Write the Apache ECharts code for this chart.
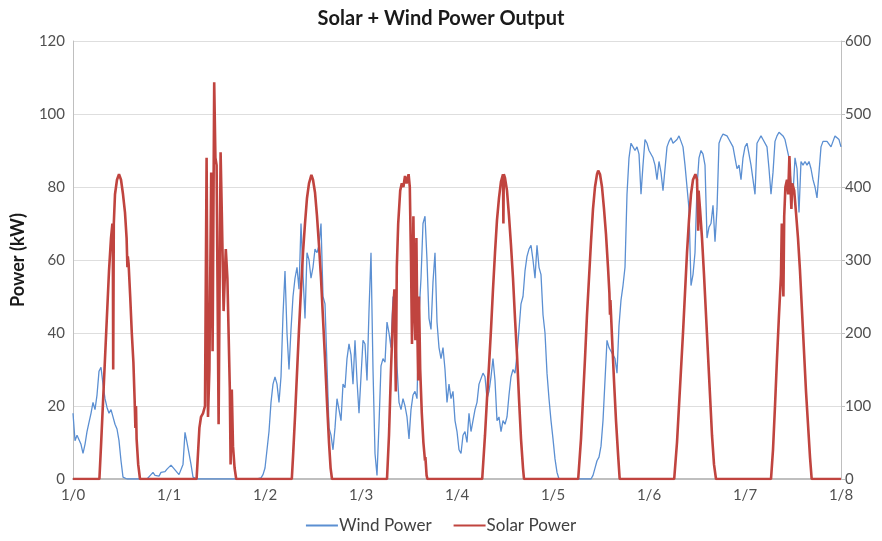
<!DOCTYPE html>
<html>
<head>
<meta charset="utf-8">
<script src="https://cdn.jsdelivr.net/npm/echarts@6/dist/echarts.min.js"></script>
<style>
  html, body { margin: 0; padding: 0; background: #ffffff; }
  #chart { width: 882px; height: 541px; }
</style>
</head>
<body>
<div id="chart"></div>
<script>
// Half-hourly wind output (kW), one array per day, starting at 00:00
const windDay0 = [18, 10.5, 12, 12, 9.5, 7, 9.5, 13, 15.5, 18, 21, 19, 23, 29.5, 30.6, 26, 22, 19.6, 18, 19, 17, 15, 13.7, 10.5, 5, 0.5, 0, 0, 0, 0, 0, 0, 0, 0, 0, 0, 0, 0, 0.5, 1.2, 1.8, 1, 1.4, 0.8, 1.8, 1.5, 2, 2.7];
const windDay1 = [2.5, 3.8, 3.5, 2.5, 2, 1.2, 1, 4, 12.8, 10, 7, 4, 0.5, 0, 0, 0, 0, 0, 0, 0, 0, 0, 0, 0, 0, 0, 0, 0, 0, 0, 0, 0, 0, 0, 0, 0, 0, 0, 0, 0, 0, 0, 0, 0, 0, 0, 0.3, 1.2];
const windDay2 = [3, 8, 13, 21, 26, 28, 26, 21, 28, 45, 57, 40, 30, 41, 50, 55, 58, 52, 70, 56, 44, 62, 60, 55, 58, 63, 62, 64, 70, 50, 48, 31, 14, 12, 8, 14, 22, 22, 16, 26, 25, 33, 37, 34, 26, 38, 27, 18];
const windDay3 = [18, 38, 37, 27, 46, 62, 30, 7, 1, 15, 31, 33, 32, 43, 40, 36, 50, 45, 31, 21, 19, 22, 20, 17, 11, 19, 23, 24, 22, 45, 55, 70, 72, 60, 44, 41, 54, 62, 43, 36, 33, 36, 30, 21, 26, 22, 24, 16];
const windDay4 = [13, 8, 7, 12, 13, 10, 18, 13, 16, 19, 21, 26, 26, 29, 28, 22, 24, 28, 33, 27, 16, 17, 13, 16, 15, 17, 23, 28, 30, 29, 34, 41, 48, 50, 57, 61, 63, 64, 60, 55, 64, 58, 56, 45, 40, 29, 22, 16];
const windDay5 = [11, 5.5, 1.8, 0, 0, 0, 0, 0, 0, 0, 0, 0, 0, 0, 0, 0, 0, 0, 0, 0, 1, 3, 5, 6, 9, 16, 27, 38, 36, 35, 34, 33, 29, 42, 49, 53, 58, 78, 88, 92, 91, 90, 91, 89, 78, 86, 93, 92];
const windDay6 = [90, 90, 88, 86, 82, 87, 84, 79, 85, 91, 92.5, 93.5, 92, 92.5, 93, 94, 93.5, 91, 86, 80, 74, 53, 56, 62, 80, 88, 90, 89, 86, 66, 69, 70, 75, 65, 74, 92, 93.5, 94.5, 94, 94, 93, 93, 91, 88, 85, 86, 82, 88];
const windDay7 = [91, 92, 89, 86, 82, 78, 92, 93, 94, 93, 92.5, 91, 85, 78, 84, 92.5, 94, 95, 94.5, 94, 93, 92.5, 88, 81, 78, 88, 85, 73, 87, 86, 87, 86, 87, 85, 82, 80, 77, 84, 91, 92.5, 92, 92.5, 92, 91, 92.5, 94, 94.5, 93, 91];

// Solar output (kW) while the sun is up: [hour of day, kW]
const solarDay0 = [[6.6, 0], [7, 9], [7.5, 21], [8, 33], [8.5, 45], [9, 57], [9.5, 66], [9.85, 70], [9.95, 69], [10.05, 30], [10.2, 70], [10.5, 78], [11, 82], [11.5, 83.5], [12, 82], [12.5, 78], [13, 73], [13.4, 66], [13.6, 58], [13.7, 61], [13.9, 59], [14.3, 50], [14.7, 40], [15.1, 32], [15.4, 22], [15.6, 14], [15.75, 20], [15.9, 11], [16.3, 4], [16.75, 0]];
const solarDay1 = [[6.9, 0], [7.3, 8], [7.6, 14], [8, 17], [8.5, 18], [9, 20], [9.4, 88], [9.75, 17], [10.1, 30], [10.55, 84], [10.9, 35], [11.3, 108.7], [11.6, 88], [11.9, 86], [12.4, 15], [12.9, 89.5], [13.2, 73], [13.65, 46], [14.2, 63], [14.6, 55], [15.2, 25], [15.4, 4], [15.7, 24.5], [16, 9], [16.4, 3], [16.8, 0]];
const solarDay2 = [[6.7, 0], [7, 6], [7.5, 17], [8, 29], [8.5, 41], [9, 52], [9.5, 62], [10, 70], [10.5, 77], [11, 81], [11.6, 83.3], [12, 82], [12.5, 78.5], [13, 72], [13.5, 64], [14, 55], [14.5, 44], [15, 33], [15.5, 21], [16, 10], [16.4, 3], [16.75, 0]];
const solarDay3 = [[6.5, 0], [7, 12], [7.5, 30], [8, 45], [8.35, 52], [8.7, 24], [8.95, 58], [9.3, 70], [9.8, 79], [10.2, 81], [10.6, 80], [11, 83], [11.4, 81], [11.9, 83.5], [12.2, 80], [12.5, 60], [12.75, 37], [13.1, 72], [13.4, 45], [13.6, 38], [13.85, 66], [14.1, 40], [14.3, 27], [14.5, 50], [14.8, 30], [15.2, 18], [15.6, 10], [16, 5], [16.1, 6], [16.4, 1], [16.6, 0]];
const solarDay4 = [[6.3, 0], [7, 12], [7.5, 22], [8, 31], [8.5, 41], [9, 52], [9.5, 62], [10, 71], [10.5, 77], [11, 81.5], [11.5, 83.5], [11.6, 70], [11.7, 83.5], [12, 82.5], [12.5, 79], [13, 72], [13.5, 64], [14, 55], [14.5, 44], [15, 34], [15.5, 22], [16, 11], [16.5, 3], [16.75, 0]];
const solarDay5 = [[6.3, 0], [7, 11], [7.5, 22], [8, 33], [8.5, 45], [9, 55], [9.5, 65], [10, 74], [10.5, 80], [11, 83.5], [11.3, 84.5], [11.75, 83.5], [12.25, 80], [12.75, 74], [13.25, 67], [13.75, 58], [14.1, 51], [14.25, 45], [14.35, 49], [14.75, 39], [15.25, 27], [15.75, 16], [16.25, 7], [16.67, 0]];
const solarDay6 = [[6.3, 0], [7, 10], [7.5, 20], [8, 30], [8.5, 40], [9, 51], [9.5, 62], [10, 71], [10.5, 78], [11, 82], [11.6, 83.5], [12, 82], [12.2, 74], [12.3, 68], [12.4, 79], [12.75, 74], [13.25, 66], [13.75, 56], [14.25, 45], [14.75, 34], [15.25, 23], [15.75, 12], [16.25, 4], [16.75, 0]];
const solarDay7 = [[6.5, 0], [7, 8], [7.5, 20], [8, 33], [8.5, 45], [9, 56], [9.2, 70], [9.4, 58], [9.6, 50], [9.8, 72], [10.1, 80], [10.5, 82], [10.8, 78], [11.1, 88.5], [11.3, 82], [11.6, 74], [11.8, 81], [12.3, 79], [12.75, 73], [13.25, 66], [13.75, 57], [14.25, 46], [14.75, 35], [15.25, 24], [15.75, 15], [16.25, 6], [16.67, 0]];

// Axis ticks
const dayTicks = ['1/0', '1/1', '1/2', '1/3', '1/4', '1/5', '1/6', '1/7', '1/8'];
const powerTicks = [0, 20, 40, 60, 80, 100, 120];
const rightTicks = [0, 100, 200, 300, 400, 500, 600];

const windDays = [windDay0, windDay1, windDay2, windDay3, windDay4, windDay5, windDay6, windDay7];
const solarDays = [solarDay0, solarDay1, solarDay2, solarDay3, solarDay4, solarDay5, solarDay6, solarDay7];

// x is measured in days since 1/0
const windData = [];
windDays.forEach((vals, d) => vals.forEach((v, k) => windData.push([d + k / 48, v])));

const solarData = [[0, 0]];
solarDays.forEach((pts, d) => pts.forEach(([h, v]) => solarData.push([d + h / 24, v])));
solarData.push([dayTicks.length - 1, 0]);

const FONT = 'Lato, "Open Sans", sans-serif';
const chart = echarts.init(document.getElementById('chart'), null, { renderer: 'canvas' });

chart.setOption({
  animation: false,
  backgroundColor: '#ffffff',
  title: {
    text: 'Solar + Wind Power Output',
    left: 'center',
    top: 4,
    textStyle: { fontFamily: FONT, fontSize: 20, fontWeight: 'bold', color: '#1a1a1a' }
  },
  legend: {
    bottom: 2,
    left: 'center',
    itemWidth: 32,
    itemHeight: 10,
    itemGap: 22,
    icon: 'path://M0,4 L32,4 L32,6 L0,6 Z',
    textStyle: { fontFamily: FONT, fontSize: 17, color: '#404040', padding: [0, 0, 0, -4] },
    data: ['Wind Power', 'Solar Power']
  },
  grid: { left: 73, right: 41, top: 41, bottom: 62, containLabel: false },
  xAxis: {
    type: 'value',
    min: 0,
    max: dayTicks.length - 1,
    interval: 1,
    axisLine: { show: true, lineStyle: { color: '#bfbfbf', width: 2 } },
    axisTick: { show: false },
    splitLine: { show: false },
    axisLabel: {
      fontFamily: FONT, fontSize: 15, color: '#505050', margin: 9,
      formatter: v => dayTicks[Math.round(v)]
    }
  },
  yAxis: [
    {
      type: 'value',
      min: powerTicks[0],
      max: powerTicks[powerTicks.length - 1],
      interval: powerTicks[1] - powerTicks[0],
      name: 'Power (kW)',
      nameLocation: 'middle',
      nameGap: 46,
      nameTextStyle: { fontFamily: FONT, fontSize: 18, fontWeight: 'bold', color: '#1a1a1a' },
      axisLine: { show: true, lineStyle: { color: '#bfbfbf', width: 1 } },
      axisTick: { show: false },
      splitLine: { show: true, lineStyle: { color: '#dedede', width: 1 } },
      axisLabel: { fontFamily: FONT, fontSize: 15, color: '#505050', margin: 8 }
    },
    {
      type: 'value',
      position: 'right',
      min: rightTicks[0],
      max: rightTicks[rightTicks.length - 1],
      interval: rightTicks[1] - rightTicks[0],
      axisLine: { show: true, lineStyle: { color: '#bfbfbf', width: 1 } },
      axisTick: { show: true, length: 4, lineStyle: { color: '#bfbfbf' } },
      splitLine: { show: false },
      axisLabel: { fontFamily: FONT, fontSize: 15, color: '#505050', margin: 4 }
    }
  ],
  series: [
    {
      name: 'Wind Power',
      type: 'line',
      yAxisIndex: 0,
      data: windData,
      showSymbol: false,
      symbol: 'none',
      lineStyle: { color: '#5b8fd2', width: 1.3 },
      itemStyle: { color: '#5b8fd2' },
      z: 2
    },
    {
      name: 'Solar Power',
      type: 'line',
      yAxisIndex: 0,
      data: solarData,
      showSymbol: false,
      symbol: 'none',
      lineStyle: { color: '#c0443f', width: 2.6 },
      itemStyle: { color: '#c0443f' },
      z: 3
    }
  ]
});
</script>
</body>
</html>
